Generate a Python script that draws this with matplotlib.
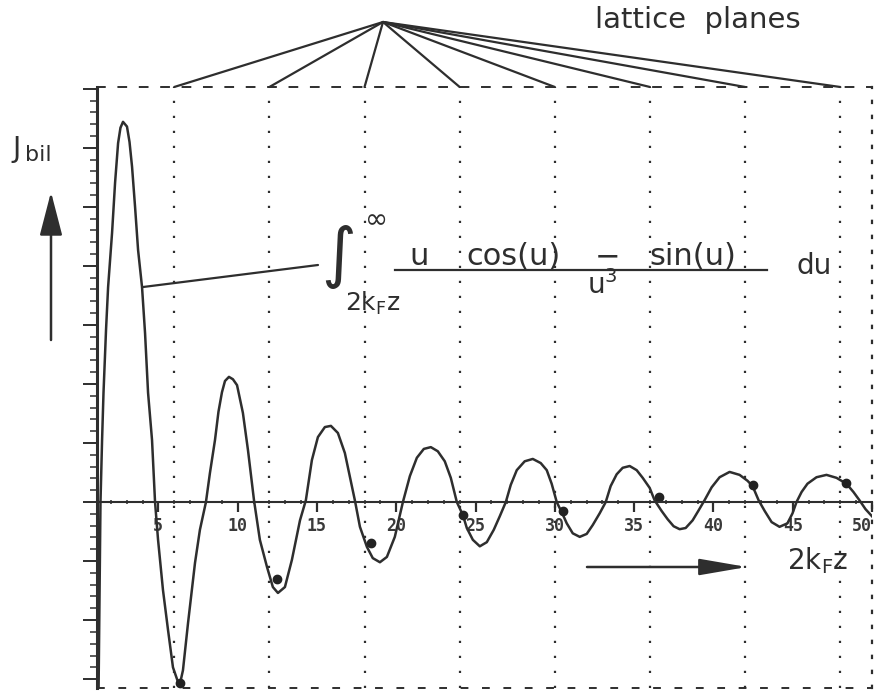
import matplotlib
matplotlib.use('Agg')
import matplotlib.pyplot as plt
from matplotlib.ticker import MultipleLocator
from matplotlib.lines import Line2D

W, H = 877, 691
INK = '#2e2e2e'

# curve: 2kFz on x, J_bil in y-tick units
kz = [1.23, 1.29, 1.35, 1.45, 1.54, 1.70, 1.83, 2.08, 2.27, 2.46, 2.61, 2.77,
      3.02, 3.18, 3.34, 3.53, 3.72, 3.97, 4.16, 4.35, 4.60, 4.79, 4.98, 5.29,
      5.61, 5.92, 6.24, 6.36, 6.55, 6.87, 7.31, 7.62, 8.00, 8.25, 8.57, 8.79,
      9.01, 9.20, 9.45, 9.70, 9.96, 10.33, 10.65, 11.03, 11.40, 11.85, 12.22,
      12.54, 12.98, 13.42, 13.93, 14.30, 14.68, 15.06, 15.50, 15.88, 16.32,
      16.76, 17.39, 17.71, 18.15, 18.52, 18.97, 19.41, 19.91, 20.42, 20.86,
      21.30, 21.74, 22.18, 22.62, 23.06, 23.44, 23.82, 24.20, 24.45, 24.83,
      25.27, 25.71, 26.15, 26.53, 26.91, 27.22, 27.60, 28.10, 28.61, 29.11,
      29.49, 29.80, 30.12, 30.50, 30.75, 31.13, 31.57, 32.01, 32.39, 32.83,
      33.21, 33.52, 33.90, 34.28, 34.72, 35.16, 35.54, 35.98, 36.29, 36.73,
      37.11, 37.49, 37.87, 38.25, 38.69, 39.07, 39.44, 39.89, 40.39, 41.02,
      41.65, 42.15, 42.47, 42.85, 43.23, 43.67, 44.17, 44.67, 44.99, 45.24,
      45.56, 45.93, 46.50, 47.13, 47.76, 48.39, 48.83, 49.21, 49.59, 50.03]
J = [-3.15, -1.66, 0.00, 1.05, 1.85, 2.92, 3.64, 4.56, 5.41, 6.08, 6.34, 6.44,
     6.36, 6.10, 5.68, 5.00, 4.27, 3.64, 2.86, 1.85, 1.05, 0.00, -0.64, -1.49,
     -2.17, -2.80, -3.05, -3.08, -2.85, -2.05, -1.03, -0.47, 0.00, 0.49, 1.05, 1.53,
     1.86, 2.05, 2.12, 2.08, 1.98, 1.51, 0.88, 0.03, -0.64, -1.10, -1.44,
     -1.54, -1.44, -0.98, -0.31, 0.03, 0.71, 1.10, 1.27, 1.29, 1.17,
     0.83, 0.03, -0.42, -0.76, -0.95, -1.02, -0.93, -0.59, 0.00, 0.44,
     0.75, 0.90, 0.93, 0.86, 0.69, 0.41, 0.00, -0.22, -0.44, -0.64,
     -0.75, -0.68, -0.47, -0.24, 0.00, 0.29, 0.54, 0.69, 0.73, 0.66,
     0.54, 0.31, 0.00, -0.21, -0.36, -0.53, -0.59, -0.54, -0.39, -0.19,
     0.00, 0.27, 0.47, 0.58, 0.61, 0.54, 0.41, 0.24, 0.03, -0.15,
     -0.29, -0.41, -0.46, -0.44, -0.31, -0.14, 0.03, 0.25, 0.42, 0.51,
     0.46, 0.36, 0.27, 0.03, -0.15, -0.34, -0.42, -0.36, -0.19, 0.00,
     0.17, 0.31, 0.42, 0.46, 0.41, 0.31, 0.17, 0.03, -0.12, -0.25]

lattice_x = [6, 12, 18, 24, 30, 36, 42, 48]
dot_x = [6.36, 12.48, 18.40, 24.20, 30.50, 36.55, 42.47, 48.39]
dot_y = [-3.07, -1.31, -0.69, -0.22, -0.15, 0.08, 0.29, 0.32]

xticks = [5, 10, 15, 20, 25, 30, 35, 40, 45, 50]
xtick_labels = ['5', '10', '15', '20', '25', '30', '35', '40', '45', '50']
leader_x, leader_y = 3.97, 3.64


def fx(px):
    return px / W


def fy(py):
    return 1 - py / H


plt.rcParams['font.family'] = ['DejaVu Sans']
plt.rcParams['mathtext.fontset'] = 'dejavusans'

fig = plt.figure(figsize=(W / 100, H / 100), dpi=100)
ax = fig.add_axes([fx(97), fy(688), (872 - 97) / W, (688 - 87) / H])
ax.set_xlim(1.13, 50.0)
ax.set_ylim(-3.15, 7.03)

# frame
ax.spines['left'].set_linewidth(2.2)
ax.spines['left'].set_color(INK)
ax.spines['top'].set_linestyle((0, (4, 7)))
ax.spines['top'].set_linewidth(1.4)
ax.spines['top'].set_color(INK)
ax.spines['right'].set_linestyle((0, (1, 5.75)))
ax.spines['right'].set_linewidth(1.6)
ax.spines['right'].set_color(INK)
ax.spines['bottom'].set_position(('data', 0))
ax.spines['bottom'].set_linewidth(1.5)
ax.spines['bottom'].set_color(INK)
ax.axhline(-3.15, ls=(0, (4, 7)), lw=1.4, color=INK, clip_on=False)

ax.set_yticks(range(-3, 8))
ax.yaxis.set_minor_locator(MultipleLocator(0.2))
ax.tick_params(axis='y', which='major', direction='out', length=10, width=1.4,
               color=INK, labelleft=False)
ax.tick_params(axis='y', which='minor', direction='out', length=5, width=1.1,
               color=INK)
ax.set_xticks(xticks)
ax.set_xticklabels(xtick_labels, family='DejaVu Sans Mono', weight='bold',
                   fontsize=12, color='#3a3a3a')
ax.get_xticklabels()[-1].set_ha('right')
ax.xaxis.set_minor_locator(MultipleLocator(1))
ax.tick_params(axis='x', which='major', direction='out', length=7, width=1.6,
               color=INK, pad=4)
ax.tick_params(axis='x', which='minor', direction='inout', length=3.5, width=1.1,
               color=INK)

# lattice planes
for xv in lattice_x:
    ax.axvline(xv, ls=(0, (1, 5.75)), lw=1.6, color=INK)
    ax.annotate('', xy=(xv, 7.03), xycoords='data',
                xytext=(383, H - 22), textcoords='figure pixels',
                arrowprops=dict(arrowstyle='-', lw=1.6, color=INK,
                                shrinkA=0, shrinkB=0))

ax.plot(kz, J, color=INK, lw=1.8, solid_joinstyle='round')
ax.plot(dot_x, dot_y, 'o', ms=6, color='#222222')

# leader line to the formula
ax.annotate('', xy=(leader_x, leader_y), xycoords='data',
            xytext=(318, H - 265), textcoords='figure pixels',
            arrowprops=dict(arrowstyle='-', lw=1.6, color=INK,
                            shrinkA=0, shrinkB=0))

# texts
fig.text(fx(698), fy(20), 'lattice  planes', fontsize=21, color=INK,
         ha='center', va='center')
fig.text(fx(12), fy(157), 'J', fontsize=20, color=INK, ha='left', va='baseline')
fig.text(fx(25), fy(161), 'bil', fontsize=16, color=INK, ha='left', va='baseline')

fig.text(fx(338), fy(257), r'$\int$', fontsize=34, color=INK, ha='center', va='center')
fig.text(fx(377), fy(220), '\u221e', fontsize=20, color=INK, ha='center', va='center')
fig.text(fx(373), fy(303), r'2k$_\mathregular{F}$z', fontsize=18, color=INK,
         ha='center', va='center')
fig.text(fx(419), fy(265), 'u', fontsize=22, color=INK, ha='center', va='baseline')
fig.text(fx(513), fy(265), 'cos(u)', fontsize=22, color=INK, ha='center', va='baseline')
fig.text(fx(608), fy(265), '\u2212', fontsize=22, color=INK, ha='center', va='baseline')
fig.text(fx(693), fy(265), 'sin(u)', fontsize=22, color=INK, ha='center', va='baseline')
fig.text(fx(587), fy(294), r'u$^\mathregular{3}$', fontsize=20, color=INK,
         ha='left', va='baseline')
fig.text(fx(797), fy(274), 'du', fontsize=20, color=INK, ha='left', va='baseline')
fig.add_artist(Line2D([fx(395), fx(767)], [fy(270), fy(270)], lw=1.6, color=INK))

fig.text(fx(787), fy(569), r'2k$_\mathregular{F}$z', fontsize=20, color=INK,
         ha='left', va='baseline')

# arrows
ax.annotate('', xy=(51, H - 192), xycoords='figure pixels',
            xytext=(51, H - 340), textcoords='figure pixels',
            arrowprops=dict(arrowstyle='-|>,head_length=2.7,head_width=0.7',
                            lw=1.8, color=INK, shrinkA=0, shrinkB=0))
ax.annotate('', xy=(747, H - 567), xycoords='figure pixels',
            xytext=(587, H - 567), textcoords='figure pixels',
            arrowprops=dict(arrowstyle='-|>,head_length=2.9,head_width=0.5',
                            lw=1.8, color=INK, shrinkA=0, shrinkB=0))

fig.savefig('out.png', dpi=100)
